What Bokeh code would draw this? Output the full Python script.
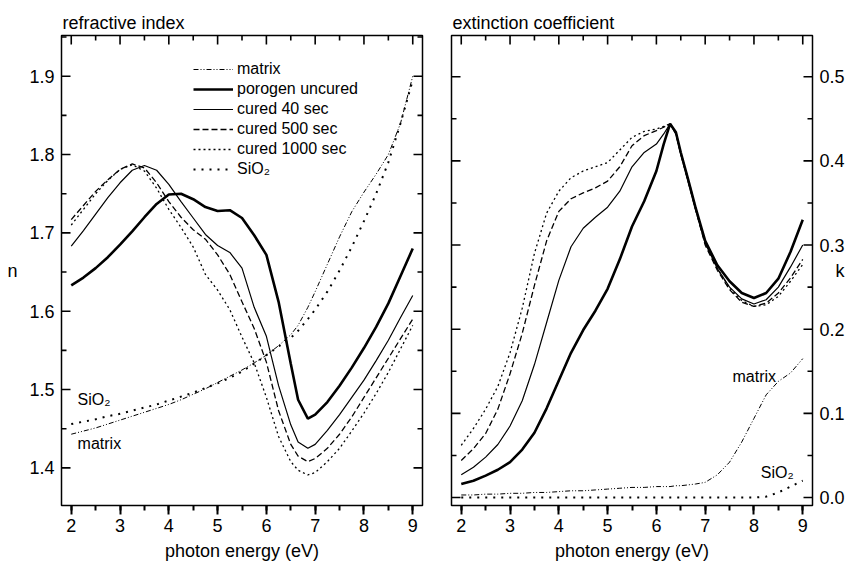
from bokeh.plotting import figure
from bokeh.models import (LinearAxis, SingleIntervalTicker, Range1d, Legend,
                          LegendItem, PrintfTickFormatter, Label)
from bokeh.layouts import row
from bokeh.embed import file_html
from bokeh.resources import INLINE

FONT = "Liberation Sans"

# ---------------- data: refractive index n ----------------
energy_n = [2.0, 2.25, 2.5, 2.75, 3.0, 3.25, 3.5, 3.75, 4.0, 4.25, 4.5, 4.75, 5.0, 5.25,
            5.5, 5.75, 6.0, 6.25, 6.5, 6.65, 6.85, 7.0, 7.25, 7.5, 7.75, 8.0, 8.25, 8.5,
            8.75, 9.0]
n_matrix = [1.443, 1.447, 1.451, 1.456, 1.461, 1.466, 1.471, 1.476, 1.481, 1.487, 1.494,
            1.501, 1.509, 1.517, 1.525, 1.534, 1.544, 1.556, 1.570, 1.582, 1.605, 1.625,
            1.660, 1.695, 1.727, 1.752, 1.775, 1.800, 1.840, 1.900]
n_porogen = [1.633, 1.643, 1.655, 1.669, 1.685, 1.702, 1.720, 1.737, 1.749, 1.750, 1.743,
             1.733, 1.728, 1.729, 1.719, 1.697, 1.672, 1.612, 1.533, 1.487, 1.463, 1.468,
             1.484, 1.505, 1.528, 1.553, 1.580, 1.610, 1.645, 1.680]
n_cured40 = [1.683, 1.703, 1.724, 1.745, 1.764, 1.780, 1.786, 1.780, 1.762, 1.740, 1.719,
             1.698, 1.684, 1.675, 1.655, 1.605, 1.568, 1.505, 1.455, 1.433, 1.425, 1.430,
             1.448, 1.468, 1.490, 1.512, 1.537, 1.563, 1.592, 1.620]
n_cured500 = [1.717, 1.735, 1.753, 1.768, 1.781, 1.788, 1.783, 1.764, 1.740, 1.720, 1.704,
              1.692, 1.672, 1.647, 1.612, 1.578, 1.535, 1.473, 1.430, 1.415, 1.408, 1.412,
              1.425, 1.443, 1.465, 1.490, 1.515, 1.540, 1.565, 1.590]
n_cured1000 = [1.710, 1.730, 1.750, 1.767, 1.781, 1.787, 1.779, 1.757, 1.730, 1.707, 1.682,
               1.647, 1.627, 1.602, 1.567, 1.534, 1.490, 1.440, 1.408, 1.397, 1.391, 1.394,
               1.408, 1.425, 1.447, 1.470, 1.495, 1.522, 1.552, 1.582]
n_sio2 = [1.456, 1.459, 1.462, 1.466, 1.469, 1.473, 1.477, 1.481, 1.486, 1.491, 1.496,
          1.502, 1.508, 1.515, 1.523, 1.533, 1.544, 1.555, 1.566, 1.575, 1.590, 1.602,
          1.625, 1.652, 1.682, 1.715, 1.750, 1.790, 1.840, 1.895]

# ---------------- data: extinction coefficient k ----------------
energy_k = [2.0, 2.25, 2.5, 2.75, 3.0, 3.25, 3.5, 3.75, 4.0, 4.25, 4.5, 4.75, 5.0, 5.25,
            5.5, 5.75, 6.0, 6.15, 6.28, 6.4, 6.5, 6.65, 6.8, 7.0, 7.25, 7.5, 7.75, 8.0,
            8.25, 8.5, 8.75, 9.0]
k_matrix = [0.003, 0.003, 0.004, 0.004, 0.005, 0.005, 0.006, 0.006, 0.007, 0.008, 0.008,
            0.009, 0.010, 0.011, 0.012, 0.012, 0.013, 0.013, 0.013, 0.014, 0.014, 0.015,
            0.016, 0.018, 0.027, 0.042, 0.066, 0.094, 0.122, 0.138, 0.148, 0.165]
k_porogen = [0.016, 0.020, 0.026, 0.033, 0.042, 0.057, 0.077, 0.106, 0.139, 0.172, 0.199,
             0.222, 0.248, 0.283, 0.322, 0.352, 0.388, 0.420, 0.444, 0.434, 0.410, 0.378,
             0.345, 0.305, 0.276, 0.257, 0.243, 0.237, 0.243, 0.260, 0.292, 0.330]
k_cured40 = [0.027, 0.036, 0.048, 0.063, 0.085, 0.115, 0.158, 0.208, 0.258, 0.298, 0.320,
             0.333, 0.345, 0.364, 0.393, 0.410, 0.420, 0.432, 0.444, 0.432, 0.408, 0.376,
             0.343, 0.302, 0.272, 0.250, 0.236, 0.230, 0.235, 0.250, 0.274, 0.300]
k_cured500 = [0.044, 0.058, 0.076, 0.105, 0.147, 0.195, 0.252, 0.305, 0.340, 0.355, 0.362,
              0.368, 0.376, 0.393, 0.418, 0.430, 0.436, 0.440, 0.444, 0.432, 0.408, 0.376,
              0.343, 0.300, 0.270, 0.247, 0.232, 0.227, 0.231, 0.243, 0.261, 0.283]
k_cured1000 = [0.062, 0.082, 0.105, 0.132, 0.172, 0.225, 0.290, 0.338, 0.364, 0.380, 0.388,
               0.393, 0.398, 0.413, 0.428, 0.435, 0.438, 0.441, 0.444, 0.434, 0.410, 0.379,
               0.346, 0.304, 0.272, 0.249, 0.234, 0.227, 0.229, 0.239, 0.257, 0.277]
k_sio2 = [0.000, 0.000, 0.000, 0.000, 0.000, 0.000, 0.000, 0.000, 0.000, 0.000, 0.000,
          0.000, 0.000, 0.000, 0.000, 0.000, 0.000, 0.000, 0.000, 0.000, 0.000, 0.000,
          0.000, 0.000, 0.000, 0.000, 0.000, 0.000, 0.001, 0.006, 0.013, 0.020]

series_labels = ["matrix", "porogen uncured", "cured 40 sec", "cured 500 sec",
                 "cured 1000 sec", "SiO\u2082"]

# ---------------- tick values ----------------
x_major = [2, 3, 4, 5, 6, 7, 8, 9]
x_minor = [2.5, 3.5, 4.5, 5.5, 6.5, 7.5, 8.5]
n_major = [1.4, 1.5, 1.6, 1.7, 1.8, 1.9]
n_minor = [1.45, 1.55, 1.65, 1.75, 1.85, 1.95]
k_major = [0.0, 0.1, 0.2, 0.3, 0.4, 0.5]
k_minor = [0.05, 0.15, 0.25, 0.35, 0.45]

STYLES = [
    dict(line_width=1.0, line_dash="5 2 1 2 1 2"),   # matrix
    dict(line_width=2.6),                             # porogen uncured
    dict(line_width=1.2),                             # cured 40 sec
    dict(line_width=1.3, line_dash="6 3"),            # cured 500 sec
    dict(line_width=1.3, line_dash="2 3"),            # cured 1000 sec
    dict(line_width=2.0, line_dash="2 6"),            # SiO2
]

X0, X1 = 1.8, 9.2
FW, FH = 361, 470
MAJ, MIN = 9, 5


def style_axis(ax, ticker, labels=True, outward=0, minor_out=0):
    ax.ticker = ticker
    ax.axis_line_color = "black"
    ax.axis_line_width = 1
    ax.major_tick_line_color = "black"
    ax.minor_tick_line_color = "black"
    ax.major_tick_line_width = 2
    ax.minor_tick_line_width = 2
    ax.major_tick_in = 0
    ax.minor_tick_in = 0
    ax.major_tick_out = outward
    ax.minor_tick_out = minor_out
    ax.major_label_text_font = FONT
    ax.major_label_text_color = "black"
    if labels:
        ax.major_label_text_font_size = "18px"
    else:
        ax.major_label_text_font_size = "0px"
        ax.major_label_standoff = 0
    ax.axis_label_text_font = FONT
    ax.axis_label_text_font_size = "18px"
    ax.axis_label_text_font_style = "normal"
    ax.axis_label_text_color = "black"


def add_inner_ticks(p, y0, y1, y_major, y_minor):
    """Inward tick marks on top, left and right edges, drawn as segments."""
    dx = (X1 - X0) / FW     # data units per pixel (x)
    dy = (y1 - y0) / FH     # data units per pixel (y)
    for vals, ln in ((x_major, MAJ), (x_minor, MIN)):
        p.segment(x0=vals, y0=[y1] * len(vals), x1=vals, y1=[y1 - ln * dy] * len(vals),
                  line_color="black", line_width=1.6)
    for vals, ln in ((y_major, MAJ), (y_minor, MIN)):
        vals = [v for v in vals if y0 <= v <= y1]
        p.segment(x0=[X0] * len(vals), y0=vals, x1=[X0 + ln * dx] * len(vals), y1=vals,
                  line_color="black", line_width=1.6)
        p.segment(x0=[X1] * len(vals), y0=vals, x1=[X1 - ln * dx] * len(vals), y1=vals,
                  line_color="black", line_width=1.6)


def make_panel(title, y0, y1, right_labels, min_left, min_right):
    p = figure(frame_width=FW, frame_height=FH, output_backend="svg",
               toolbar_location=None, x_range=Range1d(X0, X1), y_range=Range1d(y0, y1),
               min_border_left=min_left, min_border_right=min_right,
               min_border_top=35, min_border_bottom=62,
               y_axis_location="right" if right_labels else "left")
    p.grid.visible = False
    p.outline_line_color = "black"
    p.outline_line_width = 1.5
    p.background_fill_color = "white"
    p.border_fill_color = "white"
    p.title.text = title
    p.title.text_font = FONT
    p.title.text_font_size = "18px"
    p.title.text_font_style = "normal"
    p.title.text_color = "black"
    p.title.align = "left"
    p.title.offset = 1
    p.title.standoff = 6

    xt = lambda: SingleIntervalTicker(interval=1, num_minor_ticks=2)
    yt = lambda: SingleIntervalTicker(interval=0.1, num_minor_ticks=2)

    xa = p.xaxis[0]
    style_axis(xa, xt(), labels=True, outward=MAJ, minor_out=MIN)
    xa.axis_label = "photon energy (eV)"
    xa.major_label_standoff = 4
    xa.axis_label_standoff = 6

    ya = p.yaxis[0]
    style_axis(ya, yt(), labels=True)
    ya.formatter = PrintfTickFormatter(format="%.1f")
    ya.major_label_standoff = 7
    return p, ya


def side_label(ax, text, standoff):
    ax.axis_label = text
    ax.axis_label_standoff = standoff
    if hasattr(ax, "axis_label_orientation"):
        ax.axis_label_orientation = "horizontal"


# ---------------- left panel ----------------
NY0, NY1 = 1.352, 1.952
pn, yan = make_panel("refractive index", NY0, NY1, False, 61, 15)
n_series = [n_matrix, n_porogen, n_cured40, n_cured500, n_cured1000, n_sio2]
items = []
for lab, ys, st in zip(series_labels, n_series, STYLES):
    r = pn.line(energy_n, ys, line_color="black", **st)
    items.append(LegendItem(label=lab, renderers=[r]))
add_inner_ticks(pn, NY0, NY1, n_major, n_minor)

legend = Legend(items=items, location=(132, 326), padding=0, margin=0, spacing=0,
                label_height=20, glyph_height=20, glyph_width=40, label_standoff=4,
                label_text_font=FONT, label_text_font_size="16px",
                label_text_color="black",
                border_line_color=None, background_fill_alpha=0)
pn.add_layout(legend, "center")
side_label(yan, "n", 9)

pn.add_layout(Label(x=2.13, y=1.487, text="SiO\u2082", text_font=FONT,
                    text_font_size="16px", text_baseline="middle", text_color="black"))
pn.add_layout(Label(x=2.13, y=1.431, text="matrix", text_font=FONT,
                    text_font_size="16px", text_baseline="middle", text_color="black"))

# ---------------- right panel ----------------
KY0, KY1 = -0.0095, 0.549
pk, yak = make_panel("extinction coefficient", KY0, KY1, True, 14, 43)
k_series = [k_matrix, k_porogen, k_cured40, k_cured500, k_cured1000, k_sio2]
for ys, st in zip(k_series, STYLES):
    pk.line(energy_k, ys, line_color="black", **st)
add_inner_ticks(pk, KY0, KY1, k_major, k_minor)
side_label(yak, "k", -12)

pk.add_layout(Label(x=7.56, y=0.144, text="matrix", text_font=FONT,
                    text_font_size="16px", text_baseline="middle", text_color="black"))
pk.add_layout(Label(x=8.14, y=0.030, text="SiO\u2082", text_font=FONT,
                    text_font_size="16px", text_baseline="middle", text_color="black"))

layout = row(pn, pk, spacing=0)
open("out.html", "w").write(file_html(layout, INLINE))
